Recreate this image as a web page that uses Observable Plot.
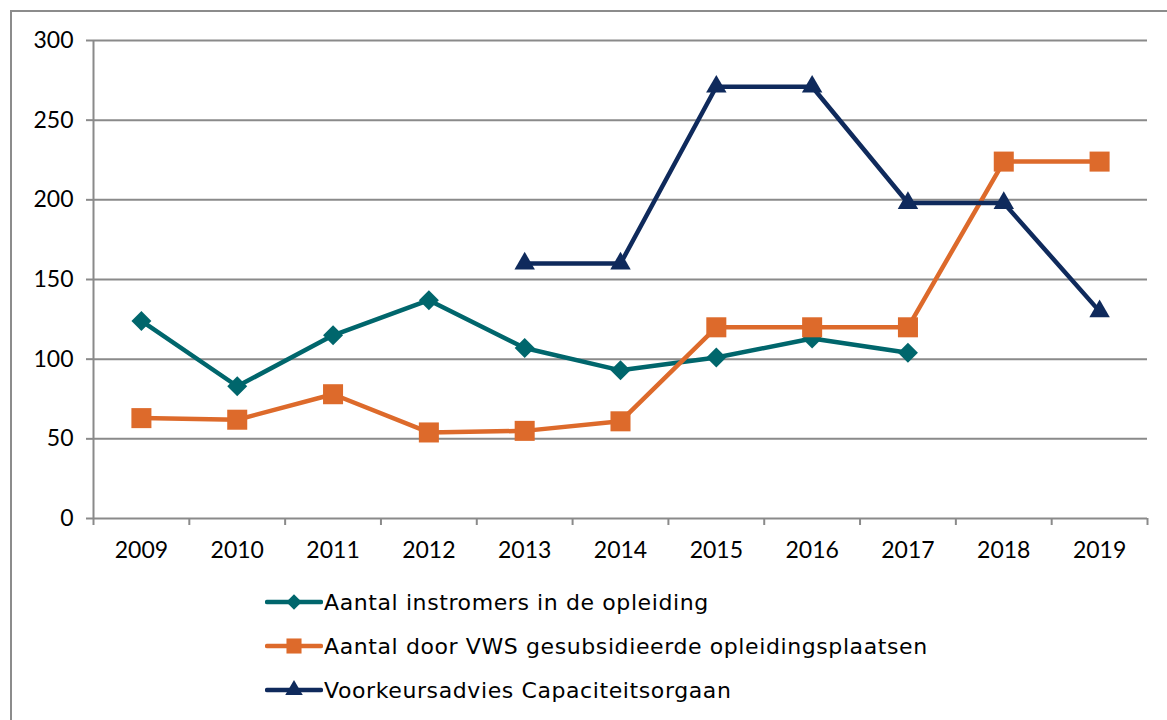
<!DOCTYPE html>
<html>
<head>
<meta charset="utf-8">
<script src="https://cdn.jsdelivr.net/npm/d3@7"></script>
<script src="https://cdn.jsdelivr.net/npm/@observablehq/plot@0.6"></script>
<style>
  html, body { margin: 0; padding: 0; background: #fff; overflow: hidden; }
  body { width: 1167px; height: 720px; position: relative; font-family: Lato, "Open Sans", sans-serif; }
  #frame { position: absolute; left: 10px; top: 10px; width: 1300px; height: 900px;
           border-left: 2px solid #8c8c8c; border-top: 2px solid #8c8c8c; }
  #chart { position: absolute; left: 0; top: 0; }
  #legend { position: absolute; left: 265px; top: 580px; }
  .item { display: flex; align-items: center; height: 44px; font-family: "DejaVu Sans", sans-serif; font-size: 22px; letter-spacing: 0.6px; color: #000; }
  .item svg { display: block; margin-right: 1px; }
</style>
</head>
<body>
<div id="frame"></div>
<div id="chart"></div>
<div id="legend"></div>
<script>
const years = [2009, 2010, 2011, 2012, 2013, 2014, 2015, 2016, 2017, 2018, 2019];
const instromers = [124, 83, 115, 137, 107, 93, 101, 113, 104, null, null];
const gesubsidieerd = [63, 62, 78, 54, 55, 61, 120, 120, 120, 224, 224];
const voorkeursadvies = [null, null, null, null, 160, 160, 271, 271, 198, 198, 130];
const yTicks = [0, 50, 100, 150, 200, 250, 300];

const seriesNames = [
  "Aantal instromers in de opleiding",
  "Aantal door VWS gesubsidieerde opleidingsplaatsen",
  "Voorkeursadvies Capaciteitsorgaan"
];
const seriesColors = ["#00666c", "#dd6a2b", "#0f2a5c"];
const seriesSymbols = ["diamond2", "square", "triangle"];
const seriesR = [9, 11.3, 7.6];
const seriesValues = [instromers, gesubsidieerd, voorkeursadvies];

const rowsFor = vals => years.map((year, i) => ({year, value: vals[i]})).filter(d => d.value != null);
const boundaries = [...years.map(y => y - 0.5), years[years.length - 1] + 0.5];

const marks = [
  Plot.gridY(yTicks, {stroke: "#8a8a8a", strokeOpacity: 1, strokeWidth: 2}),
  Plot.ruleX([boundaries[0]], {stroke: "#8a8a8a", strokeWidth: 2}),
  Plot.axisY({ticks: yTicks, label: null, tickSize: 7, tickPadding: 13, stroke: "#8a8a8a", strokeWidth: 2, fill: "#000", fontSize: 23}),
  Plot.axisX({ticks: boundaries, label: null, tickSize: 7, tickFormat: () => "", stroke: "#8a8a8a", strokeWidth: 2}),
  Plot.axisX({ticks: years, label: null, tickSize: 0, tickPadding: 23, tickFormat: d => String(d), fill: "#000", fontSize: 23})
];
seriesValues.forEach((vals, i) => {
  const rows = rowsFor(vals);
  marks.push(Plot.line(rows, {x: "year", y: "value", stroke: seriesColors[i], strokeWidth: 4.5, strokeLinejoin: "miter"}));
  marks.push(Plot.dot(rows, {x: "year", y: "value", symbol: () => seriesSymbols[i], r: seriesR[i], fill: seriesColors[i], stroke: "none"}));
});

const chart = Plot.plot({
  width: 1167,
  height: 570,
  marginLeft: 93,
  marginRight: 20,
  marginTop: 40,
  marginBottom: 52,
  x: {type: "linear", domain: [boundaries[0], boundaries[boundaries.length - 1]], label: null},
  y: {domain: [0, 300], label: null},
  symbol: {type: "identity"},
  style: {fontFamily: "Lato, 'Open Sans', sans-serif", fontSize: "23px", background: "transparent", color: "#000", overflow: "visible"},
  marks
});
document.getElementById("chart").appendChild(chart);

// Legend
const legend = d3.select("#legend");
seriesNames.forEach((name, i) => {
  const item = legend.append("div").attr("class", "item");
  const svg = item.append("svg").attr("width", 58).attr("height", 24);
  svg.append("line").attr("x1", 2).attr("x2", 56).attr("y1", 12).attr("y2", 12)
    .attr("stroke", seriesColors[i]).attr("stroke-width", 4.5).attr("stroke-linecap", "round");
  const symType = [d3.symbolDiamond2, d3.symbolSquare, d3.symbolTriangle][i];
  const size = Math.PI * [7, 8.5, 6.5][i] ** 2;
  svg.append("path").attr("transform", "translate(29,12)")
    .attr("d", d3.symbol(symType, size)()).attr("fill", seriesColors[i]);
  item.append("span").text(name);
});
</script>
</body>
</html>
